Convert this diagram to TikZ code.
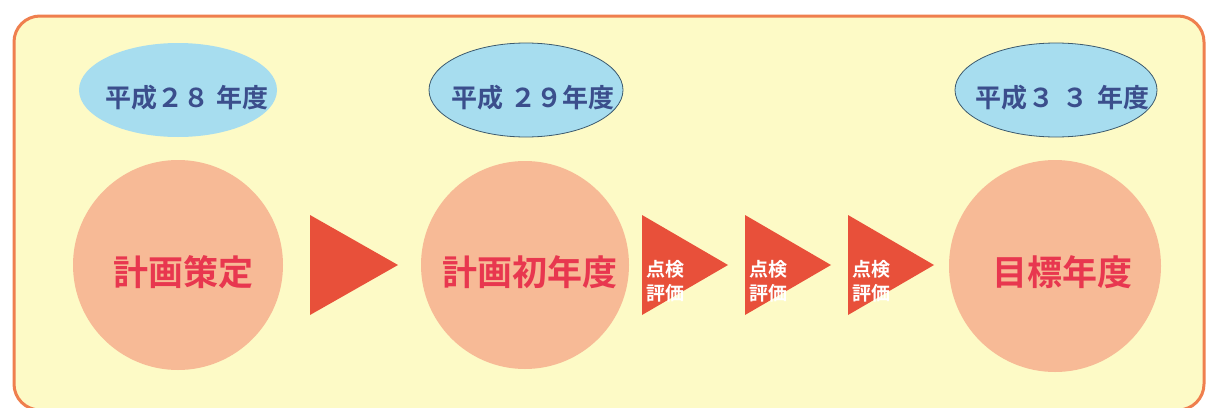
\documentclass[tikz,border=0pt]{standalone}
\usepackage{fontspec}
\newfontfamily\cjk{Noto Sans CJK JP}[BoldFont={Noto Sans CJK JP Bold}]
\begin{document}
\begin{tikzpicture}[x=1pt,y=-1pt,
  frame/.style={draw=frameorange,line width=3pt,fill=bgyellow,rounded corners=26pt},
  yearell/.style={fill=ellblue},
  yearellout/.style={fill=ellblue,draw=ellline,line width=0.8pt},
  yeartext/.style={text=yearblue,font=\cjk\bfseries\fontsize{26}{28}\selectfont,inner sep=0pt},
  bigcirc/.style={fill=circsalmon},
  circtext/.style={text=circred,font=\cjk\bfseries\fontsize{35}{38}\selectfont,inner sep=0pt},
  arrowtri/.style={fill=trired},
  tritext/.style={text=white,font=\cjk\bfseries\fontsize{19}{24}\selectfont,inner sep=0pt,align=left,anchor=west}
]
\definecolor{bgyellow}{HTML}{FDFAC6}
\definecolor{frameorange}{HTML}{EF7F4E}
\definecolor{ellblue}{HTML}{A7DDEF}
\definecolor{ellline}{HTML}{3C5A6E}
\definecolor{yearblue}{HTML}{3B4E8C}
\definecolor{circsalmon}{HTML}{F7BA96}
\definecolor{circred}{HTML}{E8374F}
\definecolor{trired}{HTML}{E8503A}
\useasboundingbox (0,0) rectangle (1207,407);
\fill[white] (0,0) rectangle (1207,407);
\path[frame] (14,16) rectangle (1204,410);
% year ellipses
\fill[yearell] (178,90) ellipse [x radius=99, y radius=47];
\path[yearellout] (526,90) ellipse [x radius=97, y radius=47];
\path[yearellout] (1056,90) ellipse [x radius=101, y radius=47];
\node[yeartext] (y28) at (187,98) {平成２８\hspace{8pt}年度};
\node[yeartext] (y29) at (533,98) {平成\hspace{8pt}２９年度};
\node[yeartext] (y33) at (1062,98) {平成\hspace{2pt}３\hspace{8pt}３\hspace{8pt}年度};
% circles
\fill[bigcirc] (178,265) circle [radius=105];
\fill[bigcirc] (525,265) circle [radius=104];
\fill[bigcirc] (1055,266) circle [radius=106];
\node[circtext] (c1) at (183,272) {計画策定};
\node[circtext] (c2) at (530,272) {計画初年度};
\node[circtext] (c3) at (1062,272) {目標年度};
% big triangle
\fill[arrowtri] (310,215) -- (398,265) -- (310,315) -- cycle;
% small triangles
\foreach \x/\n in {642/t1,745/t2,848/t3}{
  \fill[arrowtri] (\x,215) -- (\x+86,265) -- (\x,315) -- cycle;
  \node[tritext] (\n) at (\x+4,281) {点検\\評価};
}
\end{tikzpicture}
\end{document}
